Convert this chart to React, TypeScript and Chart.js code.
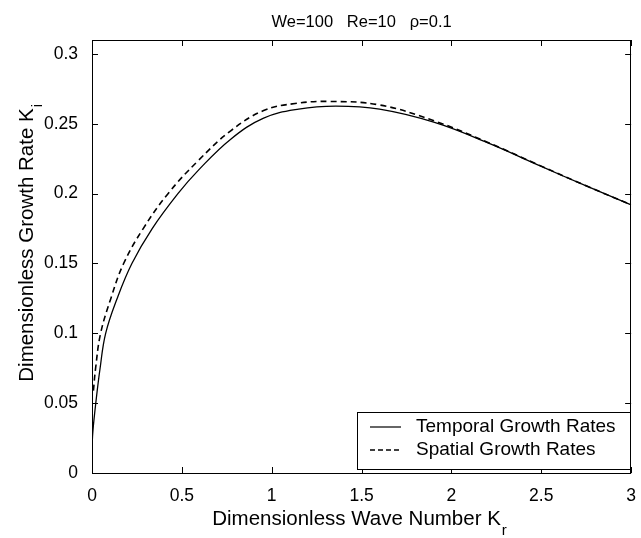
import React, { useEffect, useRef } from "react";
import { Chart, registerables } from "chart.js";

Chart.register(...registerables);

// Temporal growth rates (solid)
const temporalK = [0, 0.005, 0.021, 0.045, 0.076, 0.14, 0.222, 0.335, 0.478, 0.59, 0.772, 0.955, 1.15, 1.357, 1.6, 1.906, 2.2, 2.5, 2.75, 3.0];
const temporalRate = [0.0185, 0.03, 0.05, 0.075, 0.1, 0.125, 0.15, 0.175, 0.2, 0.2165, 0.239, 0.254, 0.2605, 0.2626, 0.2605, 0.251, 0.2365, 0.2195, 0.2055, 0.192];

// Spatial growth rates (dashed)
const spatialK = [0.008, 0.02, 0.048, 0.105, 0.176, 0.285, 0.423, 0.59, 0.772, 0.955, 1.13, 1.32, 1.6, 1.906, 2.2, 2.5, 2.75, 3.0];
const spatialRate = [0.059, 0.075, 0.1, 0.125, 0.15, 0.175, 0.2, 0.2235, 0.245, 0.2595, 0.2645, 0.266, 0.2635, 0.252, 0.2368, 0.2197, 0.2056, 0.192];

const xTicks = [0, 0.5, 1, 1.5, 2, 2.5, 3];
const yTicks = [0, 0.05, 0.1, 0.15, 0.2, 0.25, 0.3];

const titleText = "We=100   Re=10   ρ=0.1";
const xLabel = "Dimensionless Wave Number K";
const xSub = "r";
const yLabel = "Dimensionless Growth Rate K";
const ySub = "i";
const legendLabels = ["Temporal Growth Rates", "Spatial Growth Rates"];

const FONT = "Liberation Sans, Arial, Helvetica, sans-serif";

const framePlugin = {
  id: "frame",
  afterDraw(chart: any) {
    const { ctx, chartArea: a, scales } = chart;
    const xs = scales.x;
    const ys = scales.y;
    ctx.save();
    ctx.strokeStyle = "#000";
    ctx.lineWidth = 1;
    ctx.strokeRect(Math.round(a.left) + 0.5, Math.round(a.top) + 0.5, Math.round(a.right - a.left) - 1, Math.round(a.bottom - a.top));
    const tl = 6;
    ctx.beginPath();
    xTicks.forEach((v) => {
      const px = Math.round(xs.getPixelForValue(v)) + 0.5;
      ctx.moveTo(px, a.bottom);
      ctx.lineTo(px, a.bottom - tl);
      ctx.moveTo(px, a.top);
      ctx.lineTo(px, a.top + tl);
    });
    yTicks.forEach((v) => {
      const py = Math.round(ys.getPixelForValue(v)) + 0.5;
      ctx.moveTo(a.left, py);
      ctx.lineTo(a.left + tl, py);
      ctx.moveTo(a.right, py);
      ctx.lineTo(a.right - tl, py);
    });
    ctx.stroke();

    ctx.fillStyle = "#000";
    ctx.font = `16.5px ${FONT}`;
    ctx.textAlign = "center";
    ctx.textBaseline = "alphabetic";
    ctx.fillText(titleText, (a.left + a.right) / 2, 27);

    // x label
    ctx.font = `20.5px ${FONT}`;
    const xw = ctx.measureText(xLabel).width;
    const xcx = (a.left + a.right) / 2 - 5;
    ctx.textAlign = "left";
    ctx.fillText(xLabel, xcx - xw / 2, 525);
    ctx.font = `15px ${FONT}`;
    ctx.fillText(xSub, xcx + xw / 2 + 1, 535);

    // y label
    ctx.save();
    ctx.translate(33, 245);
    ctx.rotate(-Math.PI / 2);
    ctx.font = `20.5px ${FONT}`;
    const yw = ctx.measureText(yLabel).width;
    ctx.textAlign = "left";
    ctx.fillText(yLabel, -yw / 2, 0);
    ctx.font = `15px ${FONT}`;
    ctx.fillText(ySub, yw / 2 + 1, 9);
    ctx.restore();

    // legend
    const lx = 357, ly = 412, lw = 273, lh = 57;
    ctx.fillStyle = "#fff";
    ctx.fillRect(lx, ly, lw, lh);
    ctx.strokeRect(lx + 0.5, ly + 0.5, lw, lh);
    ctx.fillStyle = "#000";
    ctx.font = `19px ${FONT}`;
    ctx.textBaseline = "middle";
    const rows = [427, 450];
    ctx.lineWidth = 1.2;
    ctx.beginPath();
    ctx.moveTo(370, rows[0]);
    ctx.lineTo(401, rows[0]);
    ctx.stroke();
    ctx.setLineDash([5, 3]);
    ctx.lineWidth = 1.5;
    ctx.beginPath();
    ctx.moveTo(370, rows[1]);
    ctx.lineTo(401, rows[1]);
    ctx.stroke();
    ctx.setLineDash([]);
    ctx.fillText(legendLabels[0], 416, rows[0]);
    ctx.fillText(legendLabels[1], 416, rows[1]);
    ctx.restore();
  },
};

export default function App() {
  const ref = useRef<HTMLCanvasElement | null>(null);
  useEffect(() => {
    if (!ref.current) return;
    const chart = new Chart(ref.current, {
      type: "line",
      data: {
        datasets: [
          {
            label: legendLabels[0],
            data: temporalK.map((k, i) => ({ x: k, y: temporalRate[i] })),
            borderColor: "#000",
            borderWidth: 1.3,
            pointRadius: 0,
            tension: 0.4,
            fill: false,
          },
          {
            label: legendLabels[1],
            data: spatialK.map((k, i) => ({ x: k, y: spatialRate[i] })),
            borderColor: "#000",
            borderWidth: 1.6,
            borderDash: [6, 4],
            pointRadius: 0,
            tension: 0.4,
            fill: false,
          },
        ],
      },
      options: {
        animation: false,
        responsive: true,
        maintainAspectRatio: false,
        layout: { autoPadding: false, padding: { top: 40, right: 2, left: 0, bottom: 0 } },
        plugins: {
          legend: { display: false },
          title: { display: false },
          tooltip: { enabled: false },
        },
        scales: {
          x: {
            type: "linear",
            min: 0,
            max: 3,
            grid: { display: false },
            border: { display: false },
            afterBuildTicks: (s: any) => {
              s.ticks = xTicks.map((v) => ({ value: v }));
            },
            afterFit: (s: any) => {
              s.height = 65;
            },
            ticks: {
              color: "#000",
              font: { family: FONT, size: 17.5 },
              padding: 5,
              maxRotation: 0,
              callback: (v: any) => String(Number(Number(v).toFixed(2))),
            },
          },
          y: {
            type: "linear",
            min: 0,
            max: 0.31,
            grid: { display: false },
            border: { display: false },
            afterBuildTicks: (s: any) => {
              s.ticks = yTicks.map((v) => ({ value: v }));
            },
            afterFit: (s: any) => {
              s.width = 92;
            },
            ticks: {
              color: "#000",
              font: { family: FONT, size: 17.5 },
              padding: 6,
              callback: (v: any) => String(Number(Number(v).toFixed(2))),
            },
          },
        },
      },
      plugins: [framePlugin],
    });
    return () => chart.destroy();
  }, []);
  return (
    <div style={{ position: "absolute", left: 0, top: 0, width: 641, height: 538, background: "#fff" }}>
      <canvas ref={ref} />
    </div>
  );
}
